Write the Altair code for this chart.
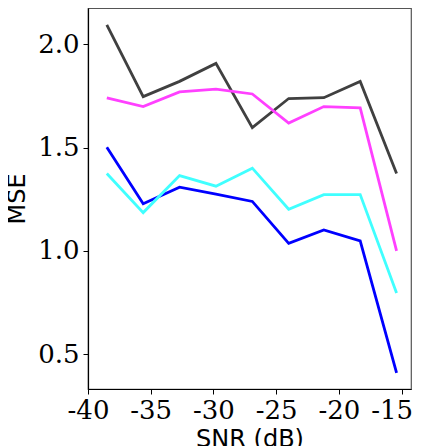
import altair as alt
import pandas as pd

snr = [-38.5, -35.6, -32.7, -29.8, -26.9, -24.0, -21.2, -18.3, -15.4]
gray_vals = [2.093, 1.746, 1.820, 1.907, 1.596, 1.737, 1.741, 1.820, 1.374]
magenta_vals = [1.740, 1.698, 1.769, 1.782, 1.759, 1.618, 1.698, 1.692, 1.000]
cyan_vals = [1.374, 1.185, 1.364, 1.313, 1.400, 1.201, 1.272, 1.272, 0.796]
blue_vals = [1.501, 1.228, 1.308, 1.274, 1.239, 1.036, 1.101, 1.048, 0.410]

x_ticks = [-40, -35, -30, -25, -20, -15]
y_ticks = [0.5, 1.0, 1.5, 2.0]

series_names = ["gray", "magenta", "blue", "cyan"]
series_vals = [gray_vals, magenta_vals, blue_vals, cyan_vals]
series_colors = ["#404040", "#ff40ff", "#0000ff", "#40ffff"]

rows = []
for order, (name, vals) in enumerate(zip(series_names, series_vals)):
    for x, y in zip(snr, vals):
        rows.append({"series": name, "snr": x, "mse": y, "o": order})
df = pd.DataFrame(rows)

chart = alt.Chart(df).mark_line(strokeWidth=2.8, clip=True).encode(
    x=alt.X("snr:Q",
            scale=alt.Scale(domain=[-40, -14.25], nice=False, zero=False),
            axis=alt.Axis(title="SNR (dB)", values=x_ticks, labelOverlap=False, labelFlush=False,
                          labelBound=False,
                          labelOffset={"condition": {"test": "datum.value == -15", "value": -10},
                                       "value": 0},
                          labelExpr="datum.value < 0 ? '-' + abs(datum.value) : '' + datum.value",
                          grid=False, tickSize=5, labelPadding=3, titlePadding=4)),
    y=alt.Y("mse:Q",
            scale=alt.Scale(domain=[0.3315, 2.175], nice=False, zero=False),
            axis=alt.Axis(title="MSE", values=y_ticks, format=".1f", labelOverlap=False,
                          labelFlush=False,
                          grid=False, tickSize=5, labelPadding=4, titlePadding=8)),
    color=alt.Color("series:N", scale=alt.Scale(domain=series_names, range=series_colors),
                    legend=None),
    detail="series:N",
    order="o:Q",
).properties(
    width=323,
    height=381,
    autosize=alt.AutoSizeParams(type="none"),
    padding={"left": 80, "top": 0, "right": 3, "bottom": 57},
).configure_view(
    stroke="#555555", strokeWidth=1.2
).configure_axis(
    domainColor="#000000", domainWidth=1.2, tickColor="#000000", tickWidth=1,
    labelFont="DejaVu Serif", labelFontSize=26, labelColor="#000000",
    titleFont="DejaVu Sans", titleFontSize=24, titleFontWeight="normal", titleColor="#000000",
)

chart.save("out.html", embed_options={"renderer": "svg", "actions": False})
